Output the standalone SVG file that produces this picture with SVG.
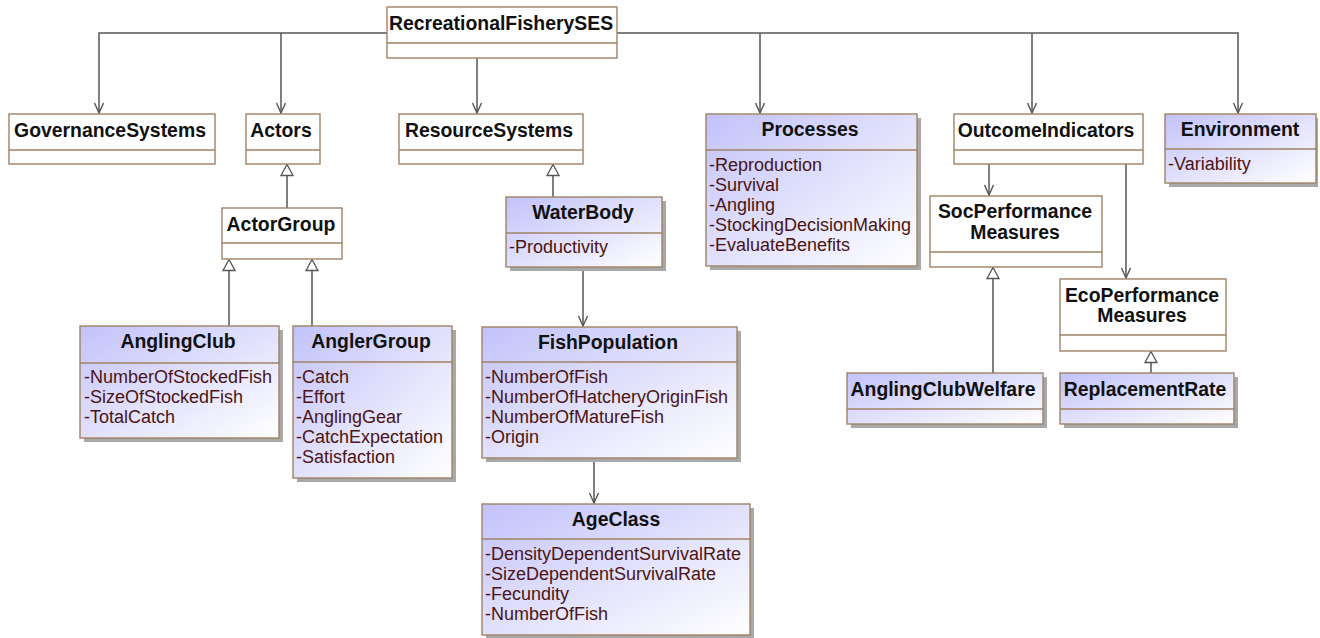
<svg xmlns="http://www.w3.org/2000/svg" width="1320" height="638" viewBox="0 0 1320 638">
<defs>
<linearGradient id="blue" x1="0" y1="0" x2="1" y2="1">
<stop offset="0" stop-color="#c2c2fa"/>
<stop offset="1" stop-color="#ffffff"/>
</linearGradient>
<marker id="open" viewBox="0 0 12 12" refX="11" refY="6" markerWidth="12" markerHeight="12" markerUnits="userSpaceOnUse" orient="auto">
<path d="M1,1.5 L11,6 L1,10.5" fill="none" stroke="#555" stroke-width="1.4"/>
</marker>
<marker id="gen" viewBox="0 0 14 14" refX="13" refY="7" markerWidth="14" markerHeight="14" markerUnits="userSpaceOnUse" orient="auto">
<path d="M2,1 L13,7 L2,13 Z" fill="#fff" stroke="#555" stroke-width="1.3"/>
</marker>
</defs>
<style>
.box{fill:#fff;stroke:#a08264;stroke-width:1.4}
.bbox{fill:url(#blue);stroke:#a08264;stroke-width:1.4}
.sh{fill:#a8a8a8}
.div{stroke:#a08264;stroke-width:1.4}
.t{font-family:"Liberation Sans",Arial,sans-serif;font-weight:bold;font-size:19.4px;fill:#111;text-anchor:middle}
.a{font-family:"Liberation Sans",Arial,sans-serif;font-size:18px;fill:#4a1414}
.c{fill:none;stroke:#555;stroke-width:1.5}
</style>
<rect width="1320" height="638" fill="#fff"/>

<g id="connectors">
<path class="c" d="M387,33 H99 V113" marker-end="url(#open)"/>
<path class="c" d="M281,33 V113" marker-end="url(#open)"/>
<path class="c" d="M477,58 V113" marker-end="url(#open)"/>
<path class="c" d="M617,33 H1238 V113" marker-end="url(#open)"/>
<path class="c" d="M760,33 V113" marker-end="url(#open)"/>
<path class="c" d="M1032,33 V113" marker-end="url(#open)"/>
<path class="c" d="M989,164 V195" marker-end="url(#open)"/>
<path class="c" d="M1126,164 V278" marker-end="url(#open)"/>
<path class="c" d="M583,267 V326" marker-end="url(#open)"/>
<path class="c" d="M594,458 V503" marker-end="url(#open)"/>
<path class="c" d="M287,208 V164.5" marker-end="url(#gen)"/>
<path class="c" d="M229,326 V259.5" marker-end="url(#gen)"/>
<path class="c" d="M312,326 V259.5" marker-end="url(#gen)"/>
<path class="c" d="M553,197 V164.5" marker-end="url(#gen)"/>
<path class="c" d="M993,373 V267.5" marker-end="url(#gen)"/>
<path class="c" d="M1151,373 V351.5" marker-end="url(#gen)"/>
</g>

<g id="RecreationalFisherySES">
<rect class="box" x="387" y="7" width="230" height="51"/>
<line class="div" x1="387" y1="43" x2="617" y2="43"/>
<text class="t" x="501" y="30">RecreationalFisherySES</text>
</g>

<g id="GovernanceSystems">
<rect class="box" x="9" y="114" width="206" height="50"/>
<line class="div" x1="9" y1="150" x2="215" y2="150"/>
<text class="t" x="110" y="137">GovernanceSystems</text>
</g>

<g id="Actors">
<rect class="box" x="246" y="114" width="74" height="50"/>
<line class="div" x1="246" y1="150" x2="320" y2="150"/>
<text class="t" x="281" y="137">Actors</text>
</g>

<g id="ResourceSystems">
<rect class="box" x="399" y="114" width="184" height="50"/>
<line class="div" x1="399" y1="150" x2="583" y2="150"/>
<text class="t" x="489" y="137">ResourceSystems</text>
</g>

<g id="Processes">
<rect class="sh" x="710" y="118" width="211" height="152"/>
<rect class="bbox" x="706" y="114" width="211" height="152"/>
<line class="div" x1="706" y1="150" x2="917" y2="150"/>
<text class="t" x="810" y="136">Processes</text>
<text class="a" x="709" y="171">-Reproduction</text>
<text class="a" x="709" y="191">-Survival</text>
<text class="a" x="709" y="211">-Angling</text>
<text class="a" x="709" y="231">-StockingDecisionMaking</text>
<text class="a" x="709" y="251">-EvaluateBenefits</text>
</g>

<g id="OutcomeIndicators">
<rect class="box" x="954" y="114" width="189" height="50"/>
<line class="div" x1="954" y1="150" x2="1143" y2="150"/>
<text class="t" x="1046" y="137">OutcomeIndicators</text>
</g>

<g id="Environment">
<rect class="sh" x="1169" y="118" width="149" height="69"/>
<rect class="bbox" x="1165" y="114" width="151" height="69"/>
<line class="div" x1="1165" y1="149" x2="1316" y2="149"/>
<text class="t" x="1240" y="136">Environment</text>
<text class="a" x="1168" y="170">-Variability</text>
</g>

<g id="ActorGroup">
<rect class="box" x="222" y="208" width="120" height="51"/>
<line class="div" x1="222" y1="243" x2="342" y2="243"/>
<text class="t" x="281" y="231">ActorGroup</text>
</g>

<g id="WaterBody">
<rect class="sh" x="510" y="201" width="156" height="70"/>
<rect class="bbox" x="506" y="197" width="156" height="70"/>
<line class="div" x1="506" y1="233" x2="662" y2="233"/>
<text class="t" x="583" y="219">WaterBody</text>
<text class="a" x="509" y="253">-Productivity</text>
</g>

<g id="SocPerformanceMeasures">
<rect class="box" x="930" y="196" width="172" height="71"/>
<line class="div" x1="930" y1="252" x2="1102" y2="252"/>
<text class="t" x="1015" y="218">SocPerformance</text>
<text class="t" x="1015" y="239">Measures</text>
</g>

<g id="EcoPerformanceMeasures">
<rect class="box" x="1060" y="279" width="166" height="72"/>
<line class="div" x1="1060" y1="335" x2="1226" y2="335"/>
<text class="t" x="1142" y="302">EcoPerformance</text>
<text class="t" x="1142" y="322">Measures</text>
</g>

<g id="AnglingClub">
<rect class="sh" x="84" y="330" width="199" height="112"/>
<rect class="bbox" x="80" y="326" width="199" height="112"/>
<line class="div" x1="80" y1="363" x2="279" y2="363"/>
<text class="t" x="178" y="348">AnglingClub</text>
<text class="a" x="84" y="383">-NumberOfStockedFish</text>
<text class="a" x="84" y="403">-SizeOfStockedFish</text>
<text class="a" x="84" y="423">-TotalCatch</text>
</g>

<g id="AnglerGroup">
<rect class="sh" x="297" y="330" width="159" height="152"/>
<rect class="bbox" x="293" y="326" width="159" height="152"/>
<line class="div" x1="293" y1="362" x2="452" y2="362"/>
<text class="t" x="371" y="348">AnglerGroup</text>
<text class="a" x="296" y="383">-Catch</text>
<text class="a" x="296" y="403">-Effort</text>
<text class="a" x="296" y="423">-AnglingGear</text>
<text class="a" x="296" y="443">-CatchExpectation</text>
<text class="a" x="296" y="463">-Satisfaction</text>
</g>

<g id="FishPopulation">
<rect class="sh" x="486" y="331" width="255" height="131"/>
<rect class="bbox" x="482" y="327" width="255" height="131"/>
<line class="div" x1="482" y1="362" x2="737" y2="362"/>
<text class="t" x="608" y="349">FishPopulation</text>
<text class="a" x="485" y="383">-NumberOfFish</text>
<text class="a" x="485" y="403">-NumberOfHatcheryOriginFish</text>
<text class="a" x="485" y="423">-NumberOfMatureFish</text>
<text class="a" x="485" y="443">-Origin</text>
</g>

<g id="AgeClass">
<rect class="sh" x="486" y="508" width="268" height="130"/>
<rect class="bbox" x="482" y="504" width="268" height="131"/>
<line class="div" x1="482" y1="539" x2="750" y2="539"/>
<text class="t" x="616" y="526">AgeClass</text>
<text class="a" x="485" y="560">-DensityDependentSurvivalRate</text>
<text class="a" x="485" y="580">-SizeDependentSurvivalRate</text>
<text class="a" x="485" y="600">-Fecundity</text>
<text class="a" x="485" y="620">-NumberOfFish</text>
</g>

<g id="AnglingClubWelfare">
<rect class="sh" x="851" y="377" width="196" height="51"/>
<rect class="bbox" x="847" y="373" width="196" height="51"/>
<line class="div" x1="847" y1="409" x2="1043" y2="409"/>
<text class="t" x="943" y="396">AnglingClubWelfare</text>
</g>

<g id="ReplacementRate">
<rect class="sh" x="1064" y="377" width="174" height="51"/>
<rect class="bbox" x="1060" y="373" width="174" height="51"/>
<line class="div" x1="1060" y1="409" x2="1234" y2="409"/>
<text class="t" x="1145" y="396">ReplacementRate</text>
</g>
</svg>
